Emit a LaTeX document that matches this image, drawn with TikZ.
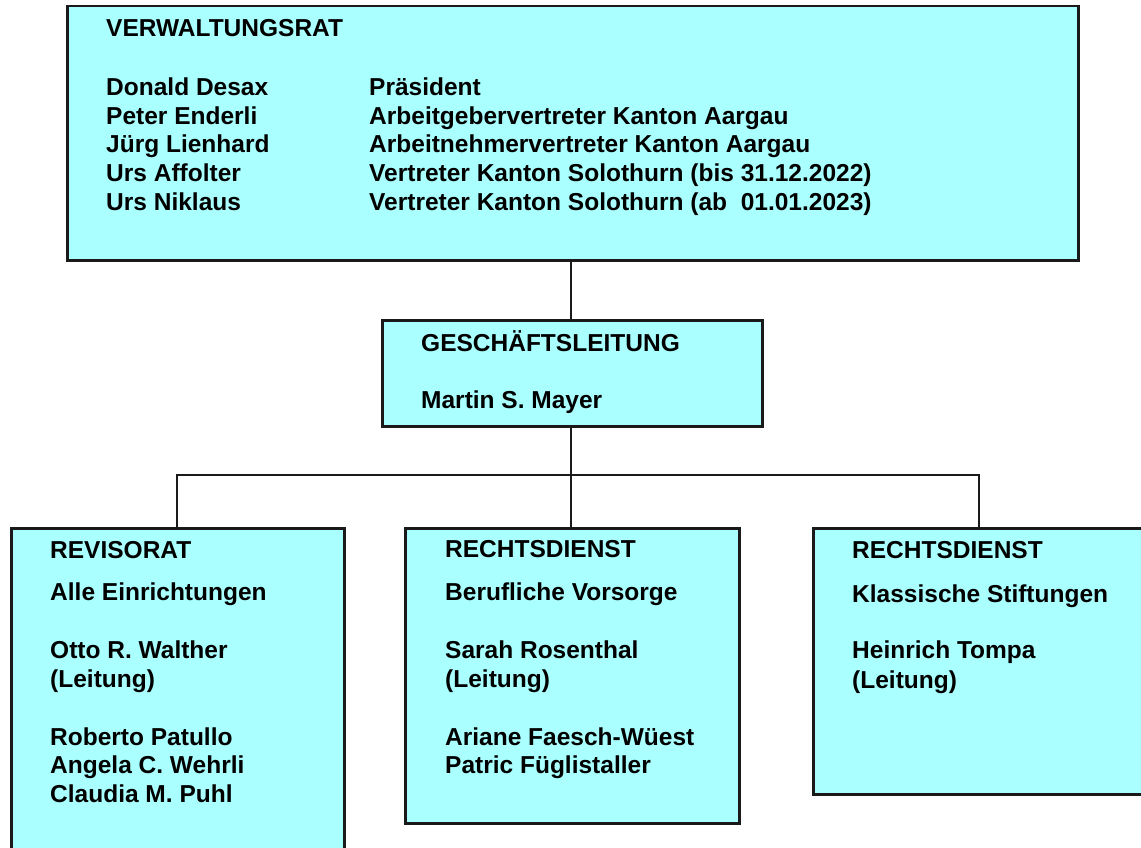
\documentclass[tikz,border=0pt]{standalone}
\usepackage{fontspec}
\setmainfont{Liberation Sans}
\definecolor{boxc}{HTML}{AAFFFF}
\definecolor{edge}{HTML}{1A1A1A}
\begin{document}
\begin{tikzpicture}[x=1pt,y=-1pt,
  box/.style={draw=edge, line width=2.5pt, fill=boxc, rectangle, inner sep=0pt, anchor=north west},
  conn/.style={line width=2pt, draw=edge},
  txt/.style={anchor=base west, inner sep=0pt, font=\fontsize{24.5}{28}\selectfont\bfseries}]
\useasboundingbox (0,0) rectangle (1141,848);
\clip (0,0) rectangle (1141,848);
% boxes
\node[box, minimum width=1011pt, minimum height=254pt] (vr) at (66,5) {};
\node[box, minimum width=380pt, minimum height=106pt] (gl) at (381,319) {};
\node[box, minimum width=333pt, minimum height=340pt] (rev) at (10,527) {};
\node[box, minimum width=334pt, minimum height=295pt] (rda) at (404,527) {};
\node[box, minimum width=360pt, minimum height=266pt] (rdb) at (812,527) {};
% connectors
\coordinate (hl) at (177,475);
\coordinate (hm) at (571,475);
\coordinate (hr) at (979,475);
\draw[conn] (vr.south -| hm) -- (gl.north -| hm);
\draw[conn] (gl.south -| hm) -- (rda.north -| hm);
\draw[conn] (rev.north -| hl) -- (hl) -- (hr) -- (rdb.north -| hr);
% VR texts
\node[txt] (vrt) at (106,37) {VERWALTUNGSRAT};
\node[txt] (n1) at (106,96) {Donald Desax};
\node[txt] (n2) at (106,124.5) {Peter Enderli};
\node[txt] (n3) at (106,153) {Jürg Lienhard};
\node[txt] (n4) at (106,181.5) {Urs Affolter};
\node[txt] (n5) at (106,210) {Urs Niklaus};
\node[txt] (r1) at (369,96) {Präsident};
\node[txt] (r2) at (369,124.5) {Arbeitgebervertreter Kanton Aargau};
\node[txt] (r3) at (369,153) {Arbeitnehmervertreter Kanton Aargau};
\node[txt] (r4) at (369,181.5) {Vertreter Kanton Solothurn (bis 31.12.2022)};
\node[txt] (r5) at (369,210) {Vertreter Kanton Solothurn (ab\ \ 01.01.2023)};
% GL texts
\node[txt] (glt) at (421,351) {GESCHÄFTSLEITUNG};
\node[txt] (gln) at (421,408) {Martin S. Mayer};
% Revisorat texts
\node[txt] (revt) at (50,558) {REVISORAT};
\node[txt] (reva) at (50,600) {Alle Einrichtungen};
\node[txt] (revb) at (50,658) {Otto R. Walther};
\node[txt] (revc) at (50,687) {(Leitung)};
\node[txt] (revd) at (50,745) {Roberto Patullo};
\node[txt] (reve) at (50,773) {Angela C. Wehrli};
\node[txt] (revf) at (50,802) {Claudia M. Puhl};
% Rechtsdienst 1 texts
\node[txt] (rdat) at (445,557) {RECHTSDIENST};
\node[txt] (rdaa) at (445,600) {Berufliche Vorsorge};
\node[txt] (rdab) at (445,658) {Sarah Rosenthal};
\node[txt] (rdac) at (445,687) {(Leitung)};
\node[txt] (rdad) at (445,745) {Ariane Faesch-Wüest};
\node[txt] (rdae) at (445,773) {Patric Füglistaller};
% Rechtsdienst 2 texts
\node[txt] (rdbt) at (852,558) {RECHTSDIENST};
\node[txt] (rdba) at (852,602) {Klassische Stiftungen};
\node[txt] (rdbb) at (852,658) {Heinrich Tompa};
\node[txt] (rdbc) at (852,688) {(Leitung)};
\end{tikzpicture}
\end{document}
